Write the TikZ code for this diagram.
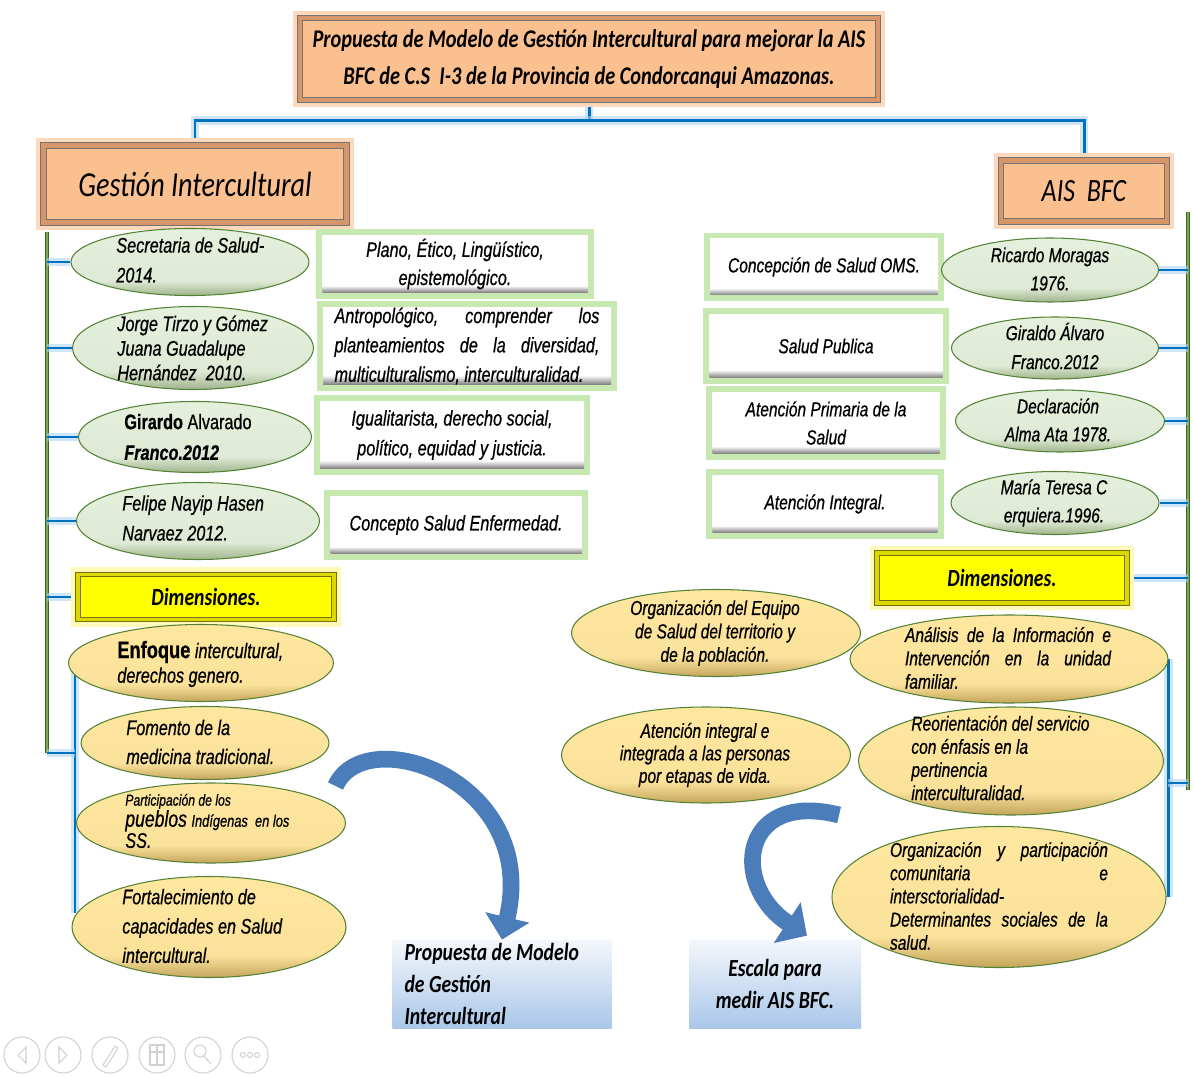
\documentclass[tikz,border=0pt]{standalone}
\usepackage{fontspec}
\setmainfont{Liberation Sans}[FakeStretch=0.77, FakeBold=0.6]
\newfontfamily\calfont{Carlito}[FakeStretch=0.8]
\usepackage{tikz}
\usetikzlibrary{arrows.meta,calc,positioning,shapes.geometric,backgrounds}

\definecolor{orfill}{RGB}{251,192,143}
\definecolor{orbev}{RGB}{214,150,105}
\definecolor{orglow}{RGB}{253,216,186}
\definecolor{grbrd}{RGB}{84,130,53}
\definecolor{gglow}{RGB}{200,232,178}
\definecolor{gtop}{RGB}{229,240,221}
\definecolor{gbot}{RGB}{160,180,140}
\definecolor{ytop}{RGB}{255,231,160}
\definecolor{ybot}{RGB}{196,166,92}
\definecolor{dimfill}{RGB}{255,255,0}
\definecolor{dimbrd}{RGB}{120,110,10}
\definecolor{dimglow}{RGB}{255,250,185}
\definecolor{bline}{RGB}{0,112,192}
\definecolor{bglow}{RGB}{175,212,245}
\definecolor{gline}{RGB}{60,100,40}
\definecolor{glinein}{RGB}{120,170,80}
\definecolor{arrc}{RGB}{74,125,185}
\definecolor{bbtop}{RGB}{244,247,252}
\definecolor{bbbot}{RGB}{170,199,233}

\pgfdeclareverticalshading{wbsh}{100bp}{color(0bp)=(black!55); color(25bp)=(black!50); color(31bp)=(white); color(100bp)=(white)}
\pgfdeclareverticalshading{gsh}{100bp}{color(0bp)=(gbot); color(25bp)=(gbot); color(36bp)=(gtop!90!gbot); color(75bp)=(gtop); color(100bp)=(gtop)}
\pgfdeclareverticalshading{ysh}{100bp}{color(0bp)=(ybot); color(25bp)=(ybot); color(36bp)=(ytop!92!ybot); color(75bp)=(ytop); color(100bp)=(ytop)}
\pgfdeclareverticalshading{bbsh}{100bp}{color(0bp)=(bbbot); color(25bp)=(bbbot); color(75bp)=(bbtop); color(100bp)=(bbtop)}

\begin{document}
\begin{tikzpicture}[
    x=0.02cm, y=-0.02cm,
    sz/.style 2 args={minimum width=#1*0.02cm, minimum height=#2*0.02cm},
    obox/.style={rectangle, inner sep=0pt, fill=orfill,
      preaction={draw=orglow, line width=8pt},
      postaction={draw=black!55, line width=.5pt, double=orbev, double distance=2.6pt}},
    dimbox/.style={rectangle, inner sep=0pt, fill=dimfill,
      preaction={draw=dimglow, line width=8pt},
      postaction={draw=dimbrd, line width=.5pt, double=dimfill!85!black, double distance=2pt},
      font=\calfont\bfseries\itshape\fontsize{14}{16}\selectfont},
    wbox/.style={rectangle, inner sep=0pt, shade, shading=wbsh,
      preaction={draw=gglow, line width=7pt}, align=center},
    gell/.style={ellipse, inner sep=0pt, draw=grbrd, line width=.6pt, shade, shading=gsh},
    yell/.style={ellipse, inner sep=0pt, draw=grbrd, line width=.6pt, shade, shading=ysh},
    bbox/.style={rectangle, inner sep=0pt, shade, shading=bbsh,
      font=\calfont\bfseries\itshape\fontsize{14}{18}\selectfont},
    tx/.style={inner sep=0pt, align=flush left, font=\itshape\fontsize{12}{#1}\selectfont},
    txs/.style={inner sep=0pt, align=center, font=\itshape\fontsize{11.5}{#1}\selectfont},
    bcon/.style={draw=bline, line width=1.7pt, preaction={draw=bglow, line width=5pt, opacity=.6}},
    gcon/.style={draw=gline, line width=.6pt, double=glinein, double distance=1.4pt},
    curv/.style={draw=arrc, line width=9.5pt},
    icon/.style={draw=black!18, line width=.6pt},
  ]
  \useasboundingbox (0,0) rectangle (1193,1077);

  % ── Header ──────────────────────────────────────────────────────────────
  \node[obox, sz={578}{82}, align=center,
        font=\calfont\bfseries\itshape\fontsize{14.5}{21.5}\selectfont] (title) at (589,59)
    {Propuesta de Modelo de Gestión Intercultural para mejorar la AIS\\BFC de C.S\ \ I-3 de la Provincia de Condorcanqui Amazonas.};
  \node[obox, sz={303}{77}, font=\calfont\itshape\fontsize{20}{22}\selectfont] (gest) at (195,184) {Gestión Intercultural};
  \node[obox, sz={166}{61}, font=\calfont\itshape\fontsize{18.5}{20}\selectfont] (ais) at (1084,191) {AIS\ \ BFC};

  % ── Left: authors ───────────────────────────────────────────────────────
  \node[gell, sz={238}{67}] (sec) at (190,262) {};
  \node[tx=17, anchor=west] (sec-t) at (116,260) {Secretaria de Salud-\\2014.};
  \node[gell, sz={241}{83}] (jor) at (193,348) {};
  \node[tx=14, anchor=west] (jor-t) at (117,348) {Jorge Tirzo y Gómez\\Juana Guadalupe\\Hernández\ \ 2010.};
  \node[gell, sz={233}{71}] (gir) at (195,437) {};
  \node[tx=17.5, anchor=west] (gir-t) at (124,437) {\upshape\textbf{Girardo} Alvarado\\\textbf{Franco.2012}};
  \node[gell, sz={243}{77}] (fel) at (198,521) {};
  \node[tx=17, anchor=west] (fel-t) at (122,518) {Felipe Nayip Hasen\\Narvaez 2012.};

  % ── Left: concepts ──────────────────────────────────────────────────────
  \node[wbox, sz={265}{57}, tx=16, align=center] (plano) at (455,264) {Plano, Ético, Lingüístico,\\epistemológico.};
  \node[wbox, sz={288}{77}, tx=16.7, text width=5.3cm] (antro) at (467,346)
    {\makebox[5.3cm][s]{Antropológico,\hfill comprender\hfill los}\\\makebox[5.3cm][s]{planteamientos\hfill de\hfill la\hfill diversidad,}\\multiculturalismo, interculturalidad.};
  \node[wbox, sz={264}{67}, tx=17, align=center] (igual) at (452,435) {Igualitarista, derecho social,\\político, equidad y justicia.};
  \node[wbox, sz={251}{57}, tx=16, align=center] (concep) at (456,525) {Concepto Salud Enfermedad.};

  % ── Left: dimensions ────────────────────────────────────────────────────
  \node[dimbox, sz={256}{45}] (dimL) at (206,597) {Dimensiones.};
  \node[yell, sz={265}{77}] (enf) at (201,663) {};
  \node[tx=14, anchor=west] (enf-t) at (117,664) {{\upshape\bfseries\fontsize{13.5}{14}\selectfont Enfoque} intercultural,\\derechos genero.};
  \node[yell, sz={248}{73}] (fom) at (205,743) {};
  \node[tx=16.5, anchor=west] (fom-t) at (126,742) {Fomento de la\\medicina tradicional.};
  \node[yell, sz={269}{80}] (part) at (211,823) {};
  \node[tx=12, anchor=west] (part-t) at (125,821) {{\fontsize{9}{12}\selectfont Participación de los}\\{\fontsize{13}{12}\selectfont pueblos} {\fontsize{9.5}{12}\selectfont Indígenas\ \ en los}\\SS.};
  \node[yell, sz={274}{101}] (fort) at (209,927) {};
  \node[tx=16.7, anchor=west] (fort-t) at (122,926) {Fortalecimiento de\\capacidades en Salud\\intercultural.};

  % ── Right: concepts ─────────────────────────────────────────────────────
  \node[wbox, sz={228}{56}, txs=16] (conc) at (824,267) {Concepción de Salud OMS.};
  \node[wbox, sz={233}{63}, txs=16] (salp) at (826,346) {Salud Publica};
  \node[wbox, sz={227}{61}, txs=16] (aps) at (826,423) {Atención Primaria de la\\Salud};
  \node[wbox, sz={225}{57}, txs=16] (aint) at (825,504) {Atención Integral.};

  % ── Right: authors ──────────────────────────────────────────────────────
  \node[gell, sz={217}{64}] (ric) at (1050,270) {};
  \node[txs=16] (ric-t) at (1050,269) {Ricardo Moragas\\1976.};
  \node[gell, sz={207}{62}] (gira) at (1055,348) {};
  \node[txs=16.5] (gira-t) at (1055,346) {Giraldo Álvaro\\Franco.2012};
  \node[gell, sz={209}{62}] (dec) at (1060,421) {};
  \node[txs=16] (dec-t) at (1058,420) {Declaración\\Alma Ata 1978.};
  \node[gell, sz={208}{63}] (mar) at (1055,503) {};
  \node[txs=16] (mar-t) at (1054,503) {María Teresa C\\erquiera.1996.};

  % ── Right: dimensions ───────────────────────────────────────────────────
  \node[dimbox, sz={250}{50}] (dimR) at (1002,578) {Dimensiones.};
  \node[yell, sz={289}{87}] (orgeq) at (716,633) {};
  \node[txs=13.3] (orgeq-t) at (715,633) {Organización del Equipo\\de Salud del territorio y\\de la población.};
  \node[yell, sz={318}{88}] (ana) at (1009,659) {};
  \node[txs=13.3, text width=4.12cm, align=flush left] (ana-t) at (1008,658)
    {\makebox[4.12cm][s]{Análisis\hfill de\hfill la\hfill Información\hfill e}\\\makebox[4.12cm][s]{Intervención\hfill en\hfill la\hfill unidad}\\familiar.};
  \node[yell, sz={289}{96}] (atint) at (706,755) {};
  \node[txs=12.8] (atint-t) at (705,755) {Atención integral e\\integrada a las personas\\por etapas de vida.};
  \node[yell, sz={305}{108}] (reor) at (1011,761) {};
  \node[txs=13.2, align=flush left, anchor=west] (reor-t) at (911,758) {Reorientación del servicio\\con énfasis en la\\pertinencia\\interculturalidad.};
  \node[yell, sz={334}{141}] (orgp) at (999,897) {};
  \node[txs=13.2, text width=4.36cm, align=flush left] (orgp-t) at (999,896)
    {\makebox[4.36cm][s]{Organización\hfill y\hfill participación}\\\makebox[4.36cm][s]{comunitaria\hfill e}\\intersctorialidad-\\\makebox[4.36cm][s]{Determinantes\hfill sociales\hfill de\hfill la}\\salud.};

  % ── Outputs ─────────────────────────────────────────────────────────────
  \node[bbox, sz={219}{88}, text width=3.9cm, align=flush left] (prop) at (502,984) {Propuesta de Modelo\\de Gestión\\Intercultural};
  \node[bbox, sz={172}{88}, align=center] (esc) at (775,984) {Escala para\\medir AIS BFC.};

  % curved arrows
  \draw[curv, -{Triangle[length=13pt, width=25pt]}] ([shift={(6,43)}]fom.east)
    .. controls (365,720) and (540,780) .. (prop.north);
  \draw[curv, -{Triangle[length=13.5pt, width=27pt]}] ([shift={(-12,60)}]atint.east)
    .. controls (740,790) and (730,885) .. ([shift={(32,-4)}]esc.north);

  % ── Connectors ──────────────────────────────────────────────────────────
  \begin{scope}[on background layer]
    \fill[white] (0,0) rectangle (1193,1077);
    \draw[bcon] (title.south) -- ++(0,20) coordinate (tj);
    \draw[bcon] (gest.north) |- (tj) -| (ais.north);
    % left spine
    \coordinate (lg-top) at (47,232);
    \coordinate (lg-bot) at (47,753);
    \draw[gcon] (lg-top) -- (lg-bot);
    \foreach \n in {sec,jor,gir,fel,dimL}
      \draw[bcon] (\n.west) -- (\n.west -| lg-top);
    \coordinate (lb-top) at (75,667);
    \coordinate (lb-bot) at (75,913);
    \draw[bcon] (lb-top) -- (lb-bot);
    \draw[bcon] (lg-bot) -- (lg-bot -| lb-top);
    % right spine
    \coordinate (rg-top) at (1188,212);
    \coordinate (rg-bot) at (1188,790);
    \draw[gcon] (rg-top) -- (rg-bot);
    \foreach \n in {ric,gira,dec,mar,dimR}
      \draw[bcon] (\n.east) -- (\n.east -| rg-top);
    \draw[bcon] (ana.east) -- (ana.east |- orgp.east);
    \coordinate (rb-mid) at (1168,783);
    \draw[bcon] (rb-mid) -- (rb-mid -| rg-top);
  \end{scope}

  % ── Slide controls ──────────────────────────────────────────────────────
  \foreach \cx in {22,63,110,157,203,250}
    \draw[icon] (\cx,1055) circle [radius=18];
  \draw[icon] (26,1047) -- (18,1055) -- (26,1063) -- cycle;
  \draw[icon] (59,1047) -- (67,1055) -- (59,1063) -- cycle;
  \draw[icon] (103,1065) -- (115,1046) -- (118,1048) -- (106,1067) -- cycle;
  \draw[icon] (150,1045) rectangle (164,1065) (150,1052) -- (164,1052) (157,1045) -- (157,1065);
  \draw[icon] (200,1051) circle [radius=6] (204,1056) -- (211,1064);
  \foreach \dx in {-7,0,7}
    \draw[icon] ($(250,1055)+(\dx,0)$) circle [radius=2.5];
\end{tikzpicture}
\end{document}
